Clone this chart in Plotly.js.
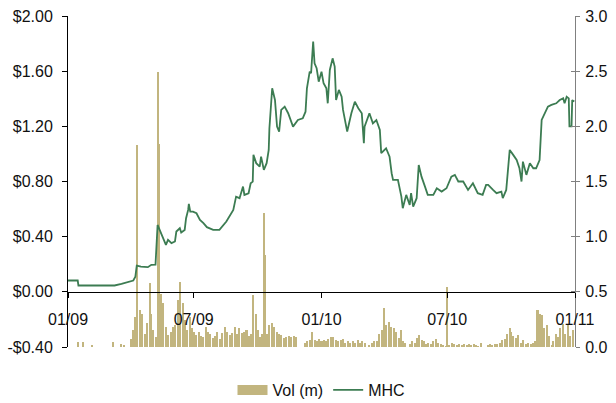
<!DOCTYPE html>
<html>
<head>
<meta charset="utf-8">
<script src="https://cdn.plot.ly/plotly-3.0.1.min.js"></script>
<style>
  html, body { margin: 0; padding: 0; background: #ffffff; }
  #chart { width: 616px; height: 403px; }
</style>
</head>
<body>
<div id="chart"></div>
<script>
// MHC share price (left axis, $)
const priceDates = [
  '2009-01-01','2009-01-15','2009-01-16','2009-03-09','2009-03-19','2009-03-28','2009-04-05','2009-04-08',
  '2009-04-10','2009-04-16','2009-04-26','2009-05-01','2009-05-07','2009-05-10','2009-05-13','2009-05-18',
  '2009-05-22','2009-05-25','2009-05-30','2009-06-04','2009-06-06','2009-06-11','2009-06-13','2009-06-18',
  '2009-06-20','2009-06-23','2009-06-24','2009-06-26','2009-06-30','2009-07-05','2009-07-10','2009-07-15',
  '2009-07-20','2009-07-29','2009-08-07','2009-08-17','2009-08-27','2009-08-31','2009-09-05','2009-09-10',
  '2009-09-12','2009-09-18','2009-09-21','2009-09-24','2009-09-25','2009-09-29','2009-10-04','2009-10-06',
  '2009-10-10','2009-10-14','2009-10-17','2009-10-18','2009-10-22','2009-10-26','2009-10-29','2009-11-01',
  '2009-11-04','2009-11-09','2009-11-14','2009-11-21','2009-11-28','2009-12-05','2009-12-09','2009-12-11',
  '2009-12-15','2009-12-17','2009-12-20','2009-12-22','2009-12-25','2009-12-28','2010-01-01','2010-01-04',
  '2010-01-08','2010-01-10','2010-01-13','2010-01-17','2010-01-20','2010-01-22','2010-01-26','2010-01-30',
  '2010-02-01','2010-02-07','2010-02-13','2010-02-18','2010-02-23','2010-02-28','2010-03-03','2010-03-04',
  '2010-03-11','2010-03-16','2010-03-21','2010-03-26','2010-03-28','2010-04-04','2010-04-09','2010-04-12',
  '2010-04-14','2010-04-21','2010-04-26','2010-04-28','2010-05-03','2010-05-08','2010-05-10','2010-05-13',
  '2010-05-18','2010-05-21','2010-05-25','2010-05-30','2010-06-03','2010-06-11','2010-06-16','2010-06-23',
  '2010-06-30','2010-07-07','2010-07-12','2010-07-17','2010-07-24','2010-07-31','2010-08-07','2010-08-14',
  '2010-08-21','2010-08-26','2010-08-29','2010-09-05','2010-09-10','2010-09-17','2010-09-19','2010-09-24',
  '2010-09-29','2010-10-04','2010-10-09','2010-10-13','2010-10-16','2010-10-18','2010-10-23','2010-10-28',
  '2010-11-02','2010-11-06','2010-11-11','2010-11-14','2010-11-18','2010-11-23','2010-11-28','2010-12-05',
  '2010-12-10','2010-12-15','2010-12-17','2010-12-20','2010-12-23','2010-12-24','2010-12-27','2010-12-28',
  '2010-12-31'
];
const priceValues = [
  0.082,0.082,0.046,0.046,0.058,0.070,0.082,0.110,
  0.190,0.183,0.179,0.196,0.198,0.485,0.449,0.377,
  0.341,0.377,0.353,0.365,0.437,0.461,0.430,0.449,
  0.534,0.594,0.638,0.582,0.582,0.570,0.522,0.498,
  0.469,0.449,0.449,0.510,0.594,0.690,0.679,0.763,
  0.703,0.715,0.787,0.799,0.993,0.933,0.908,0.980,
  0.884,0.933,1.029,1.186,1.476,1.391,1.198,1.162,
  1.319,1.343,1.295,1.198,1.246,1.258,1.306,1.476,
  1.596,1.585,1.814,1.657,1.621,1.524,1.596,1.512,
  1.476,1.367,1.609,1.693,1.633,1.391,1.464,1.415,
  1.319,1.162,1.295,1.379,1.331,1.295,1.077,1.198,
  1.295,1.222,1.246,1.174,1.005,1.041,0.980,0.860,
  0.812,0.812,0.690,0.606,0.703,0.630,0.715,0.618,
  0.679,0.920,0.835,0.763,0.703,0.703,0.751,0.727,
  0.751,0.835,0.848,0.800,0.800,0.739,0.787,0.715,
  0.703,0.775,0.775,0.739,0.715,0.727,0.679,0.739,
  1.029,0.993,0.956,0.896,0.800,0.944,0.848,0.933,
  0.896,0.896,0.956,1.246,1.295,1.343,1.355,1.367,
  1.391,1.403,1.367,1.415,1.403,1.200,1.200,1.390,
  1.380
];

// Traded volume (right axis, millions of shares)
const volumeDates = [
  '2009-01-16','2009-01-23','2009-02-05','2009-03-07','2009-03-19','2009-03-23',
  '2009-04-01','2009-04-04','2009-04-08','2009-04-11','2009-04-15','2009-04-18','2009-04-22','2009-04-25','2009-04-29',
  '2009-05-01','2009-05-04','2009-05-08','2009-05-10','2009-05-12','2009-05-15','2009-05-18','2009-05-22','2009-05-25','2009-05-29',
  '2009-06-01','2009-06-04','2009-06-08','2009-06-11','2009-06-15','2009-06-18','2009-06-22','2009-06-25','2009-06-29',
  '2009-07-01','2009-07-04','2009-07-08','2009-07-11','2009-07-15','2009-07-18','2009-07-22','2009-07-25','2009-07-29',
  '2009-08-01','2009-08-04','2009-08-08','2009-08-11','2009-08-15','2009-08-18','2009-08-22','2009-08-25','2009-08-29',
  '2009-09-01','2009-09-04','2009-09-08','2009-09-11','2009-09-15','2009-09-18','2009-09-22','2009-09-25','2009-09-29',
  '2009-10-01','2009-10-04','2009-10-08','2009-10-10','2009-10-12','2009-10-15','2009-10-18','2009-10-22','2009-10-25','2009-10-29',
  '2009-11-01','2009-11-04','2009-11-08','2009-11-11','2009-11-15','2009-11-18','2009-11-22','2009-11-25','2009-11-29',
  '2009-12-01','2009-12-04','2009-12-08','2009-12-11','2009-12-15','2009-12-18','2009-12-22','2009-12-25','2009-12-29',
  '2010-01-01','2010-01-04','2010-01-08','2010-01-11','2010-01-15','2010-01-18','2010-01-22','2010-01-25','2010-01-29',
  '2010-02-01','2010-02-04','2010-02-08','2010-02-11','2010-02-15','2010-02-18','2010-02-22','2010-02-25',
  '2010-03-01','2010-03-04','2010-03-08','2010-03-11','2010-03-15','2010-03-18','2010-03-22','2010-03-25','2010-03-29',
  '2010-04-01','2010-04-04','2010-04-08','2010-04-11','2010-04-15','2010-04-18','2010-04-22','2010-04-25','2010-04-29',
  '2010-05-01','2010-05-04','2010-05-08','2010-05-11','2010-05-15','2010-05-18','2010-05-22','2010-05-25','2010-05-29',
  '2010-06-01','2010-06-04','2010-06-08','2010-06-11','2010-06-15','2010-06-18','2010-06-22','2010-06-25','2010-06-29',
  '2010-07-01','2010-07-04','2010-07-08','2010-07-11','2010-07-15','2010-07-18','2010-07-22','2010-07-25','2010-07-29',
  '2010-08-01','2010-08-04','2010-08-08','2010-08-11','2010-08-15','2010-08-18','2010-08-22','2010-08-25','2010-08-29',
  '2010-09-01','2010-09-04','2010-09-08','2010-09-11','2010-09-15','2010-09-18','2010-09-22','2010-09-25','2010-09-29',
  '2010-10-01','2010-10-04','2010-10-08','2010-10-11','2010-10-15','2010-10-18','2010-10-22','2010-10-25','2010-10-29',
  '2010-11-01','2010-11-04','2010-11-08','2010-11-11','2010-11-15','2010-11-18','2010-11-22','2010-11-25','2010-11-29',
  '2010-12-01','2010-12-04','2010-12-08','2010-12-11','2010-12-15','2010-12-18','2010-12-22','2010-12-25','2010-12-29'
];
const volumeValues = [
  0.048,0.048,0.018,0.048,0.030,0.020,
  0.070,0.150,0.270,1.830,0.335,0.300,0.120,0.220,0.577,
  0.300,0.150,0.090,2.490,1.840,0.478,0.396,0.184,0.110,0.139,
  0.184,0.200,0.426,0.592,0.396,0.245,0.150,0.275,0.170,
  0.140,0.109,0.140,0.100,0.093,0.184,0.140,0.120,0.080,
  0.100,0.139,0.070,0.130,0.184,0.140,0.110,0.130,0.184,
  0.120,0.170,0.130,0.140,0.150,0.100,0.120,0.470,0.300,
  0.150,0.090,0.120,1.217,0.834,0.120,0.200,0.220,0.184,0.140,
  0.120,0.109,0.080,0.090,0.100,0.090,0.100,0.090,0.000,
  0.000,0.000,0.040,0.050,0.060,0.139,0.060,0.050,0.070,
  0.050,0.060,0.050,0.070,0.090,0.093,0.060,0.050,0.060,
  0.070,0.040,0.050,0.040,0.050,0.040,0.060,0.040,
  0.050,0.040,0.000,0.020,0.040,0.050,0.050,0.120,0.154,
  0.350,0.200,0.230,0.180,0.170,0.140,0.080,0.154,0.050,
  0.040,0.000,0.030,0.050,0.040,0.080,0.110,0.060,0.050,
  0.030,0.040,0.030,0.050,0.070,0.040,0.030,0.020,0.010,
  0.540,0.020,0.040,0.030,0.020,0.030,0.020,0.030,0.020,
  0.030,0.020,0.030,0.020,0.010,0.040,0.000,0.000,0.020,
  0.030,0.020,0.030,0.030,0.040,0.060,0.070,0.120,0.170,
  0.140,0.100,0.080,0.110,0.040,0.060,0.030,0.040,0.030,
  0.040,0.050,0.335,0.300,0.290,0.170,0.200,0.100,0.020,
  0.050,0.120,0.090,0.170,0.210,0.120,0.210,0.100,0.150
];

// Axis ticks
const dateTicks = ['2009-01-01','2009-07-01','2010-01-01','2010-07-01','2011-01-01'];
const dateTickLabels = ['01/09','07/09','01/10','07/10','01/11'];
const priceTicks = [-0.4, 0, 0.4, 0.8, 1.2, 1.6, 2.0];
const priceTickLabels = ['-$0.40','$0.00','$0.40','$0.80','$1.20','$1.60','$2.00'];
const volumeTicks = [0, 0.5, 1.0, 1.5, 2.0, 2.5, 3.0];
const volumeTickLabels = ['0.0','0.5','1.0','1.5','2.0','2.5','3.0'];

const FONT = 'Liberation Sans, Arial, Helvetica, sans-serif';
const DAY_MS = 86400000;
const VOL_COLOR = '#c2b57f';

const traces = [
  {
    type: 'bar',
    name: 'Vol (m)',
    x: volumeDates,
    y: volumeValues,
    width: 2.9 * DAY_MS,
    xaxis: 'x',
    yaxis: 'y',
    marker: { color: VOL_COLOR, line: { width: 0 } },
    showlegend: false,
    hoverinfo: 'skip'
  },
  {
    // legend key for the volume bars, drawn as a wide swatch
    type: 'scatter', mode: 'lines', name: 'Vol (m)',
    x: [null], y: [null],
    xaxis: 'x', yaxis: 'y',
    line: { color: VOL_COLOR, width: 10 },
    hoverinfo: 'skip'
  },
  {
    type: 'scatter',
    mode: 'lines',
    name: 'MHC',
    x: priceDates,
    y: priceValues,
    xaxis: 'x',
    yaxis: 'y2',
    line: { color: '#3c7c52', width: 1.8 },
    hoverinfo: 'skip'
  },
  {
    // carries the inner half of the right-hand cross ticks
    type: 'scatter', mode: 'lines', x: [], y: [],
    xaxis: 'x', yaxis: 'y3', showlegend: false, hoverinfo: 'skip'
  }
];

const layout = {
  width: 616,
  height: 403,
  margin: { l: 68, r: 41, t: 16, b: 56, pad: 0, autoexpand: false },
  paper_bgcolor: '#ffffff',
  plot_bgcolor: '#ffffff',
  font: { family: FONT, size: 16, color: '#111111' },
  showlegend: true,
  bargap: 0,
  xaxis: {
    type: 'date',
    range: ['2009-01-01', '2011-01-01'],
    anchor: 'free',
    position: 1 / 6,
    showline: true, linecolor: '#000000', linewidth: 1,
    ticks: 'outside', ticklen: 5, tickcolor: '#000000', tickwidth: 1,
    tickmode: 'array', tickvals: dateTicks, ticktext: dateTickLabels,
    ticklabelstandoff: 8,
    showgrid: false, zeroline: false, fixedrange: true
  },
  yaxis: {
    side: 'right',
    range: [0, 3],
    showline: true, linecolor: '#808080', linewidth: 1,
    ticks: 'outside', ticklen: 4, tickcolor: '#808080', tickwidth: 1,
    tickmode: 'array', tickvals: volumeTicks, ticktext: volumeTickLabels,
    ticklabelstandoff: 2,
    showgrid: false, zeroline: false, fixedrange: true
  },
  yaxis2: {
    overlaying: 'y',
    side: 'left',
    range: [-0.4, 2.0],
    showline: true, linecolor: '#000000', linewidth: 1,
    ticks: 'outside', ticklen: 5, tickcolor: '#000000', tickwidth: 1,
    tickmode: 'array', tickvals: priceTicks, ticktext: priceTickLabels,
    ticklabelstandoff: 6,
    showgrid: false, zeroline: false, fixedrange: true
  },
  yaxis3: {
    overlaying: 'y',
    side: 'right',
    range: [0, 3],
    showline: false,
    ticks: 'inside', ticklen: 4, tickcolor: '#808080', tickwidth: 1,
    tickmode: 'array', tickvals: volumeTicks,
    showticklabels: false,
    showgrid: false, zeroline: false, fixedrange: true
  },
  legend: {
    orientation: 'h',
    x: 0.5, xanchor: 'center',
    y: -0.13, yanchor: 'middle',
    font: { family: FONT, size: 16, color: '#111111' },
    itemwidth: 30,
    bgcolor: 'rgba(0,0,0,0)'
  }
};

Plotly.newPlot('chart', traces, layout, { displayModeBar: false, staticPlot: true });
</script>
</body>
</html>
